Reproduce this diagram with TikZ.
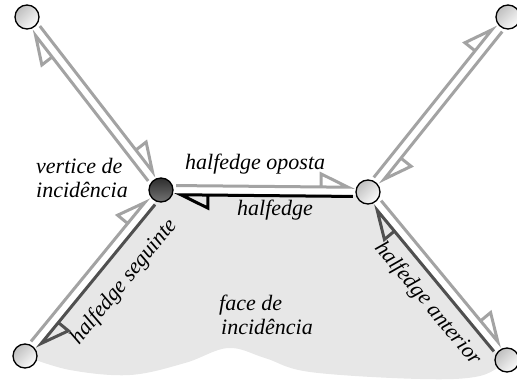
\documentclass[tikz,border=0pt]{standalone}
\usepackage{fontspec}
\setmainfont{Liberation Serif}
\usetikzlibrary{calc}

\definecolor{hgray}{RGB}{163,163,163}
\definecolor{hdark}{RGB}{80,80,80}
\definecolor{facefill}{RGB}{231,231,231}

% One half-edge from node #1 to node #2: a line offset to the left of the
% direction of travel, ending in a one-sided open arrow head.
\newcommand\halfedgedraw[3]{%
  \draw[hedge,#3]
    ($(#1)!15pt!(#2)!4.6pt!90:(#2)$) --
    ($(#2)!20pt!(#1)!4.6pt!-90:(#1)$) --
    ($(#2)!47pt!(#1)!17.6pt!-90:(#1)$) --
    ($(#2)!47pt!(#1)!4.6pt!-90:(#1)$);}

\tikzset{
  hedge/.style={line width=3pt, line join=miter, line cap=butt},
  vtx/.style={circle, draw=black, line width=1.3pt, minimum size=24pt,
    inner sep=0pt, top color=gray!50, bottom color=gray!3, shading angle=45},
  vtxdark/.style={vtx, top color=black!82, bottom color=black!55},
  lbl/.style={font=\fontsize{22}{24}\selectfont\itshape, inner sep=0pt},
  gapline/.style={white, line width=6pt},
}

\begin{document}
\begin{tikzpicture}[x=1pt, y=-1pt]
  \useasboundingbox (0,0) rectangle (517,383);

  % vertex positions
  \coordinate (pTL) at (27,17);
  \coordinate (pTR) at (508,17);
  \coordinate (pC)  at (161,190);
  \coordinate (pR)  at (368,192);
  \coordinate (pBL) at (25,356);
  \coordinate (pBR) at (507,360);

  % incident face with its wavy lower border
  \fill[facefill] (pC) -- (pR) -- (pBR)
    -- plot[smooth, tension=0.6] coordinates {(507,360) (480,376) (420,379)
      (310,372) (265,358) (228,348) (185,363) (130,375) (70,370) (25,356)}
    -- cycle;

  % white gap between the two halves of each face edge
  \draw[gapline] ($(pC)!12pt!(pR)$) -- ($(pR)!12pt!(pC)$);
  \draw[gapline] ($(pC)!12pt!(pBL)$) -- ($(pBL)!12pt!(pC)$);
  \draw[gapline] ($(pR)!12pt!(pBR)$) -- ($(pBR)!12pt!(pR)$);

  % half-edges
  \halfedgedraw{pTL}{pC}{hgray}
  \halfedgedraw{pC}{pTL}{hgray}
  \halfedgedraw{pR}{pTR}{hgray}
  \halfedgedraw{pTR}{pR}{hgray}
  \halfedgedraw{pC}{pR}{hgray}
  \halfedgedraw{pR}{pC}{black}
  \halfedgedraw{pBL}{pC}{hgray}
  \halfedgedraw{pC}{pBL}{hdark}
  \halfedgedraw{pR}{pBR}{hgray}
  \halfedgedraw{pBR}{pR}{hdark}

  % vertices
  \node[vtx] (TL) at (pTL) {};
  \node[vtx] (TR) at (pTR) {};
  \node[vtxdark] (C) at (pC) {};
  \node[vtx] (R) at (pR) {};
  \node[vtx] (BL) at (pBL) {};
  \node[vtx] (BR) at (pBR) {};

  % labels
  \node[lbl, anchor=base west] (v1) at (36,173) {vertice de};
  \node[lbl, anchor=base west] (v2) at (36,197) {incidência};
  \node[lbl, anchor=base west] (opp) at (185,169) {halfedge oposta};
  \node[lbl, anchor=base west] (he) at (237,215) {halfedge};
  \node[lbl, anchor=base west] (f1) at (219,310) {face de};
  \node[lbl, anchor=base west] (f2) at (221,334) {incidência};
  \node[lbl, rotate=50.67] (nxt) at ($(pBL)!0.56!(pC)!30pt!-90:(pC)$) {halfedge seguinte};
  \node[lbl, rotate=-50.4] (prv) at ($(pR)!0.57!(pBR)!25pt!-90:(pBR)$) {halfedge anterior};
\end{tikzpicture}
\end{document}
